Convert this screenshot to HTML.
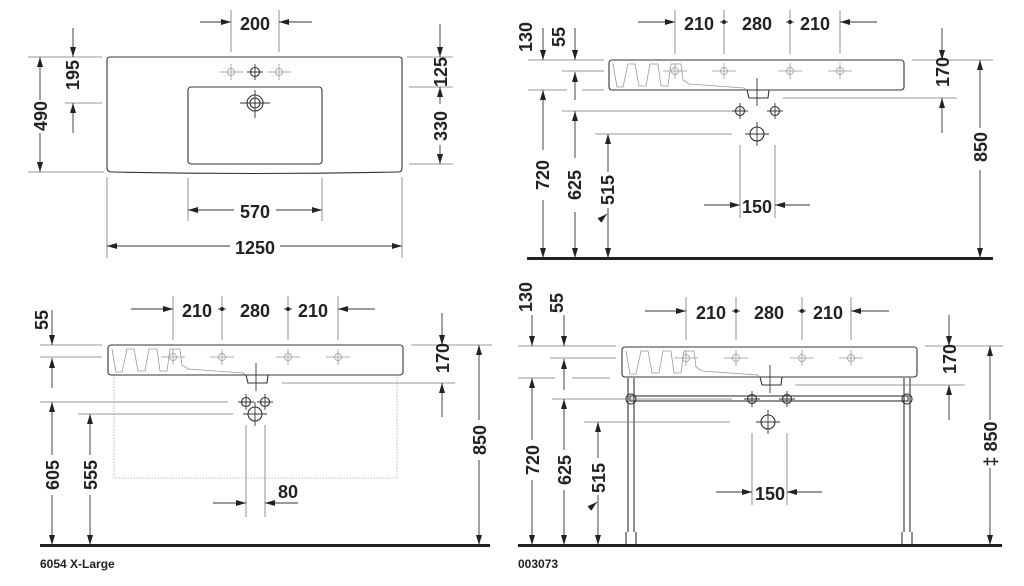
<!DOCTYPE html>
<html><head><meta charset="utf-8"><style>
html,body{margin:0;padding:0;background:#fff;}
svg{display:block;}
text{font-family:"Liberation Sans",sans-serif;font-size:18px;font-weight:bold;fill:#222;}
.e{stroke:#777;stroke-width:0.8;fill:none;}
.d{stroke:#333;stroke-width:0.9;fill:none;}
.o{stroke:#333;stroke-width:1.1;fill:none;}
.g{stroke:#999;stroke-width:0.8;fill:none;}
</style></head><body>
<svg width="1024" height="586" viewBox="0 0 1024 586" xmlns="http://www.w3.org/2000/svg">
<defs>
<marker id="a" viewBox="0 0 10 6" refX="10" refY="3" markerWidth="10" markerHeight="6" markerUnits="userSpaceOnUse" orient="auto"><path d="M0,0 L10,3 L0,6 z" fill="#222"/></marker>
<g id="bas">
<rect x="0" y="0" width="295" height="30" rx="3" class="o"/>
<path class="g" d="M4,4 L8,27 L14,27 L19,4 L26,4 L30,26 L37,26 L41,4 L49,4 L52,26 L59,26 L62,4 L72,4 L74,20 L80,24 L135,28 L138,30"/>
<path class="o" d="M138,30 L140,38 L159,38 L160,30"/>
<path class="d" d="M148,18 L148,46"/>
</g>
<g id="tap"><circle r="3.5" class="g" stroke="#666"/><path class="g" stroke="#666" d="M-12,0 H12 M0,-8 V8"/></g>
<g id="hole"><circle r="4.5" class="o"/><path class="d" d="M-8,0 H8 M0,-8 V8"/></g>
<g id="big"><circle r="7" class="o"/><path class="d" d="M-12,0 H12 M0,-12 V12"/></g>
</defs>

<!-- ===== Panel 1 ===== -->
<path class="o" d="M110,57 H399 Q402,57 402,60 V168 Q402,172 398,172 Q255,175 112,172 Q107,172 107,168 V60 Q107,57 110,57 Z"/>
<rect x="188" y="87" width="134" height="77" rx="3" class="o"/>
<use href="#tap" x="231" y="72"/><use href="#hole" x="255" y="72"/><use href="#tap" x="279" y="72"/>
<circle cx="255" cy="103" r="8" class="o"/><circle cx="255" cy="103" r="5" class="o"/><path class="d" d="M240,103 H270 M255,90 V118"/>
<!-- 200 -->
<path class="e" d="M231,10 V52 M279,10 V52"/>
<path class="d" d="M200,22 H231" marker-end="url(#a)"/><path class="d" d="M312,22 H279" marker-end="url(#a)"/>
<text x="255" y="30" text-anchor="middle">200</text>
<!-- 195 / 490 -->
<path class="e" d="M28,57 H102 M28,172 H104 M65,103 H102"/>
<path class="d" d="M73,28 V57" marker-end="url(#a)"/><path class="d" d="M73,133 V103" marker-end="url(#a)"/>
<text transform="translate(79,75) rotate(-90)" text-anchor="middle">195</text>
<path class="d" d="M40,100 V57" marker-end="url(#a)"/><path class="d" d="M40,133 V172" marker-end="url(#a)"/>
<text transform="translate(47,116) rotate(-90)" text-anchor="middle">490</text>
<!-- 125 / 330 -->
<path class="e" d="M407,57 H453 M409,87 H453 M409,164 H453"/>
<path class="d" d="M440,24 V57" marker-end="url(#a)"/><path class="d" d="M440,104 V87" marker-end="url(#a)"/><path class="d" d="M440,145 V164" marker-end="url(#a)"/>
<text transform="translate(447,72) rotate(-90)" text-anchor="middle">125</text>
<text transform="translate(447,126) rotate(-90)" text-anchor="middle">330</text>
<!-- 570 / 1250 -->
<path class="e" d="M188,178 V221 M322,178 V221 M107,177 V258 M402,177 V258"/>
<path class="d" d="M234,210 H188" marker-end="url(#a)"/><path class="d" d="M276,210 H322" marker-end="url(#a)"/>
<text x="255" y="218" text-anchor="middle">570</text>
<path class="d" d="M230,246 H107" marker-end="url(#a)"/><path class="d" d="M280,246 H402" marker-end="url(#a)"/>
<text x="255" y="254" text-anchor="middle">1250</text>

<!-- ===== Panel 2 ===== -->
<use href="#bas" x="609" y="60"/>
<use href="#tap" x="675" y="71"/><use href="#tap" x="724" y="71"/><use href="#tap" x="790" y="71"/><use href="#tap" x="840" y="71"/>
<path class="e" d="M675,10 V54 M724,10 V54 M790,10 V54 M840,10 V54"/>
<path class="d" d="M638,22 H675" marker-end="url(#a)"/><path class="d" d="M877,22 H840" marker-end="url(#a)"/>
<path class="d" d="M720,22 H728 M786,22 H794"/><circle cx="724" cy="22" r="2" fill="#222"/><circle cx="790" cy="22" r="2" fill="#222"/>
<text x="699" y="30" text-anchor="middle">210</text><text x="757" y="30" text-anchor="middle">280</text><text x="815" y="30" text-anchor="middle">210</text>
<path class="e" d="M528,60 H604 M562,71 H604 M528,90 H567 M582,90 H604 M562,111 H735 M595,134 H732 M783,98 H957 M912,60 H993"/>
<path class="d" d="M543,28 V60" marker-end="url(#a)"/><path class="d" d="M575,28 V60" marker-end="url(#a)"/>
<text transform="translate(532,37) rotate(-90)" text-anchor="middle">130</text>
<text transform="translate(565,37) rotate(-90)" text-anchor="middle">55</text>
<path class="d" d="M575,100 V72" marker-end="url(#a)"/>
<path class="d" d="M543,150 V90" marker-end="url(#a)"/><path class="d" d="M543,200 V258" marker-end="url(#a)"/>
<text transform="translate(549,175) rotate(-90)" text-anchor="middle">720</text>
<path class="d" d="M575,158 V111" marker-end="url(#a)"/><path class="d" d="M575,212 V258" marker-end="url(#a)"/>
<text transform="translate(581,185) rotate(-90)" text-anchor="middle">625</text>
<path class="d" d="M608,172 V134" marker-end="url(#a)"/><path class="d" d="M608,208 V258" marker-end="url(#a)"/>
<text transform="translate(614,190) rotate(-90)" text-anchor="middle">515</text>
<path class="d" d="M600,220 L607,214" marker-end="url(#a)"/>
<use href="#hole" x="740" y="111"/><use href="#hole" x="775" y="111"/><use href="#big" x="757" y="134"/>
<path class="e" d="M740,145 V218 M775,145 V218"/>
<path class="d" d="M704,205 H740" marker-end="url(#a)"/><path class="d" d="M810,205 H775" marker-end="url(#a)"/>
<text x="757" y="213" text-anchor="middle">150</text>
<path class="d" d="M942,28 V60" marker-end="url(#a)"/><path class="d" d="M942,133 V98" marker-end="url(#a)"/>
<text transform="translate(949,72) rotate(-90)" text-anchor="middle">170</text>
<path class="d" d="M980,128 V60" marker-end="url(#a)"/><path class="d" d="M980,170 V258" marker-end="url(#a)"/>
<text transform="translate(987,147) rotate(-90)" text-anchor="middle">850</text>
<path d="M527,258.5 H993" stroke="#222" stroke-width="3"/>

<!-- ===== Panel 3 ===== -->
<rect x="114" y="375" width="283" height="103" fill="none" stroke="#aaa" stroke-width="0.8" stroke-dasharray="1.5,1.5"/>
<use href="#bas" x="108" y="345"/>
<use href="#tap" x="173" y="357"/><use href="#tap" x="222" y="357"/><use href="#tap" x="288" y="357"/><use href="#tap" x="338" y="357"/>
<path class="e" d="M173,296 V340 M222,296 V340 M288,296 V340 M338,296 V340"/>
<path class="d" d="M131,309 H173" marker-end="url(#a)"/><path class="d" d="M375,309 H338" marker-end="url(#a)"/>
<path class="d" d="M218,309 H226 M284,309 H292"/><circle cx="222" cy="309" r="2" fill="#222"/><circle cx="288" cy="309" r="2" fill="#222"/>
<text x="197" y="317" text-anchor="middle">210</text><text x="255" y="317" text-anchor="middle">280</text><text x="313" y="317" text-anchor="middle">210</text>
<path class="e" d="M40,345 H102 M40,357 H102 M40,402 H228 M78,414 H233 M282,383 H455 M411,345 H492"/>
<path class="d" d="M52,310 V345" marker-end="url(#a)"/><path class="d" d="M52,388 V358" marker-end="url(#a)"/>
<text transform="translate(48,320) rotate(-90)" text-anchor="middle">55</text>
<path class="d" d="M52,455 V402" marker-end="url(#a)"/><path class="d" d="M52,495 V545" marker-end="url(#a)"/>
<text transform="translate(59,475) rotate(-90)" text-anchor="middle">605</text>
<path class="d" d="M90,455 V414" marker-end="url(#a)"/><path class="d" d="M90,495 V545" marker-end="url(#a)"/>
<text transform="translate(97,475) rotate(-90)" text-anchor="middle">555</text>
<use href="#hole" x="246" y="402"/><use href="#hole" x="265" y="402"/><use href="#big" x="255" y="414"/>
<path class="e" d="M246,425 V517 M265,425 V517"/>
<path class="d" d="M213,503 H246" marker-end="url(#a)"/><path class="d" d="M298,503 H265" marker-end="url(#a)"/>
<text x="288" y="498" text-anchor="middle">80</text>
<path class="d" d="M442,313 V345" marker-end="url(#a)"/><path class="d" d="M442,417 V383" marker-end="url(#a)"/>
<text transform="translate(449,358) rotate(-90)" text-anchor="middle">170</text>
<path class="d" d="M479,420 V345" marker-end="url(#a)"/><path class="d" d="M479,460 V545" marker-end="url(#a)"/>
<text transform="translate(486,440) rotate(-90)" text-anchor="middle">850</text>
<path d="M40,545.5 H490" stroke="#222" stroke-width="3"/>
<text x="40" y="568" style="font-size:12px">6054 X-Large</text>

<!-- ===== Panel 4 ===== -->
<path class="o" d="M628,378 V532 M634,378 V532 M904,378 V532 M910,378 V532 M626,532 V545 M636,532 V545 M902,532 V545 M912,532 V545"/>
<rect x="630" y="396" width="278" height="5" class="o"/>
<circle cx="631" cy="399" r="5" class="o"/><circle cx="907" cy="399" r="5" class="o"/>
<rect x="622" y="346" width="294" height="32" rx="3" fill="#fff" stroke="none"/>
<use href="#bas" x="622" y="347"/>
<use href="#tap" x="686" y="358"/><use href="#tap" x="736" y="358"/><use href="#tap" x="802" y="358"/><use href="#tap" x="851" y="358"/>
<path class="e" d="M686,297 V340 M736,297 V340 M802,297 V340 M851,297 V340"/>
<path class="d" d="M645,311 H686" marker-end="url(#a)"/><path class="d" d="M889,311 H851" marker-end="url(#a)"/>
<path class="d" d="M732,311 H740 M798,311 H806"/><circle cx="736" cy="311" r="2" fill="#222"/><circle cx="802" cy="311" r="2" fill="#222"/>
<text x="711" y="319" text-anchor="middle">210</text><text x="769" y="319" text-anchor="middle">280</text><text x="828" y="319" text-anchor="middle">210</text>
<path class="e" d="M518,346 H616 M550,358 H616 M518,378 H555 M572,378 H610 M552,399 H732 M584,422 H730 M795,385 H965 M925,346 H1003"/>
<path class="d" d="M532,315 V346" marker-end="url(#a)"/><path class="d" d="M564,315 V346" marker-end="url(#a)"/>
<text transform="translate(532,297) rotate(-90)" text-anchor="middle">130</text>
<text transform="translate(563,303) rotate(-90)" text-anchor="middle">55</text>
<path class="d" d="M564,390 V359" marker-end="url(#a)"/>
<path class="d" d="M532,440 V378" marker-end="url(#a)"/><path class="d" d="M532,480 V545" marker-end="url(#a)"/>
<text transform="translate(539,460) rotate(-90)" text-anchor="middle">720</text>
<path class="d" d="M564,450 V399" marker-end="url(#a)"/><path class="d" d="M564,490 V545" marker-end="url(#a)"/>
<text transform="translate(571,470) rotate(-90)" text-anchor="middle">625</text>
<path class="d" d="M598,458 V422" marker-end="url(#a)"/><path class="d" d="M598,495 V545" marker-end="url(#a)"/>
<text transform="translate(605,478) rotate(-90)" text-anchor="middle">515</text>
<path class="d" d="M590,508 L597,502" marker-end="url(#a)"/>
<use href="#hole" x="752" y="399"/><use href="#hole" x="787" y="399"/><use href="#big" x="768" y="422"/>
<path class="e" d="M752,433 V505 M787,433 V505"/>
<path class="d" d="M716,492 H752" marker-end="url(#a)"/><path class="d" d="M822,492 H787" marker-end="url(#a)"/>
<text x="770" y="500" text-anchor="middle">150</text>
<path class="d" d="M949,315 V346" marker-end="url(#a)"/><path class="d" d="M949,420 V385" marker-end="url(#a)"/>
<text transform="translate(956,359) rotate(-90)" text-anchor="middle">170</text>
<path class="d" d="M990,420 V346" marker-end="url(#a)"/><path class="d" d="M990,468 V545" marker-end="url(#a)"/>
<text transform="translate(997,444) rotate(-90)" text-anchor="middle">‡ 850</text>
<path d="M518,545.5 H1002" stroke="#222" stroke-width="3"/>
<text x="518" y="568" style="font-size:12px">003073</text>
</svg>
</body></html>
